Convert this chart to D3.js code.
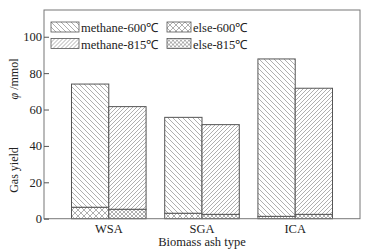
<!DOCTYPE html>
<html>
<head>
<meta charset="utf-8">
<script src="https://cdn.jsdelivr.net/npm/d3@7"></script>
<style>
  body { margin: 0; background: #fff; }
  text { font-family: "Liberation Serif", "Times New Roman", serif; fill: #222; }
</style>
</head>
<body>
<div id="viz"></div>
<script>
const width = 373;
const height = 251;
const margin = { top: 10, right: 13, bottom: 32, left: 44 };

const categories = ['WSA', 'SGA', 'ICA'];
const temps = ['600', '815'];
// yields per category, 600 then 815
const else600 = [6.3, 3.0, 1.3];
const else815 = [5.2, 2.4, 2.4];
const methane600 = [67.7, 52.7, 86.5];
const methane815 = [56.4, 49.3, 69.3];
const yTicks = [0, 20, 40, 60, 80, 100];

const lineCol = '#555';
const hatchCol = '#9a9a9a';

const svg = d3.select('#viz')
    .append('svg')
        .attr('width', width)
        .attr('height', height);

// hatch patterns
const defs = svg.append('defs');
function hatch(id, size, paths) {
    const p = defs.append('pattern')
        .attr('id', id)
        .attr('patternUnits', 'userSpaceOnUse')
        .attr('width', size)
        .attr('height', size);
    p.append('rect').attr('width', size).attr('height', size).attr('fill', '#fff');
    paths.forEach(d => {
        p.append('path').attr('d', d)
            .attr('stroke', hatchCol).attr('stroke-width', 0.8).attr('fill', 'none');
    });
}
hatch('m600', 5, ['M0,0 L5,5 M-1,4 L1,6 M4,-1 L6,1']);
hatch('m815', 4, ['M0,4 L4,0 M-1,1 L1,-1 M3,5 L5,3']);
hatch('e600', 6, ['M0,0 L6,6 M0,6 L6,0']);
hatch('e815', 4, ['M0,0 L4,4 M0,4 L4,0']);

const x0 = d3.scaleBand()
    .domain(categories)
    .range([margin.left, width - margin.right])
    .paddingInner(0.2)
    .paddingOuter(0.295);

const x1 = d3.scaleBand()
    .domain(temps)
    .range([0, x0.bandwidth()]);

const y = d3.scaleLinear()
    .domain([0, 114.7])
    .range([height - margin.bottom - 0.3, margin.top]);

// stacked bars: else at bottom, methane on top
const rows = [];
categories.forEach((c, i) => {
    rows.push({ cat: c, t: '600', lo: 0, hi: else600[i], fill: 'url(#e600)' });
    rows.push({ cat: c, t: '600', lo: else600[i], hi: else600[i] + methane600[i], fill: 'url(#m600)' });
    rows.push({ cat: c, t: '815', lo: 0, hi: else815[i], fill: 'url(#e815)' });
    rows.push({ cat: c, t: '815', lo: else815[i], hi: else815[i] + methane815[i], fill: 'url(#m815)' });
});

svg.append('g')
    .selectAll('rect')
    .data(rows)
    .join('rect')
        .attr('x', d => x0(d.cat) + x1(d.t))
        .attr('y', d => y(d.hi))
        .attr('width', x1.bandwidth())
        .attr('height', d => y(d.lo) - y(d.hi))
        .attr('fill', d => d.fill)
        .attr('stroke', lineCol)
        .attr('stroke-width', 1);

// frame
svg.append('rect')
    .attr('x', margin.left)
    .attr('y', margin.top)
    .attr('width', width - margin.right - margin.left)
    .attr('height', y(0) - margin.top)
    .attr('fill', 'none')
    .attr('stroke', '#777')
    .attr('stroke-width', 1);

// y axis, inward ticks
const yAxis = svg.append('g')
    .attr('transform', `translate(${margin.left},0)`)
    .call(d3.axisRight(y).tickValues(yTicks).tickSize(5).tickFormat(d3.format('d')));
yAxis.select('.domain').remove();
yAxis.selectAll('line').attr('stroke', '#555');
yAxis.selectAll('text')
    .attr('x', -2)
    .attr('text-anchor', 'end')
    .style('font-size', '12.5px')
    .attr('fill', '#222');

// x axis labels
const xAxis = svg.append('g')
    .attr('transform', `translate(0,${y(0)})`)
    .call(d3.axisBottom(x0).tickSize(0).tickPadding(0));
xAxis.select('.domain').remove();
xAxis.selectAll('text')
    .attr('y', 14)
    .attr('dy', null)
    .style('font-size', '12.5px')
    .attr('fill', '#222');

svg.append('text')
    .attr('x', (margin.left + width - margin.right) / 2)
    .attr('y', 246)
    .attr('text-anchor', 'middle')
    .style('font-size', '12.5px')
    .text('Biomass ash type');

// y title in two pieces with a wide gap, as in the figure
svg.append('text')
    .attr('transform', 'translate(18,170) rotate(-90)')
    .attr('text-anchor', 'middle')
    .style('font-size', '12px')
    .text('Gas yield');
const yl = svg.append('text')
    .attr('transform', 'translate(18,79) rotate(-90)')
    .attr('text-anchor', 'middle')
    .style('font-size', '12px');
yl.append('tspan').style('font-style', 'italic').text('φ');
yl.append('tspan').text(' /mmol');

// legend
const legend = [
    { label: 'methane-600℃', fill: 'url(#m600)', col: 0, row: 0 },
    { label: 'methane-815℃', fill: 'url(#m815)', col: 0, row: 1 },
    { label: 'else-600℃', fill: 'url(#e600)', col: 1, row: 0 },
    { label: 'else-815℃', fill: 'url(#e815)', col: 1, row: 1 }
];
const colX = [51, 167];
const colW = [28, 24];
const lg = svg.append('g')
    .selectAll('g')
    .data(legend)
    .join('g')
        .attr('transform', d => `translate(${colX[d.col]},${22 + d.row * 16.5})`);
lg.append('rect')
    .attr('width', d => colW[d.col])
    .attr('height', 10)
    .attr('fill', d => d.fill)
    .attr('stroke', lineCol)
    .attr('stroke-width', 0.8);
lg.append('text')
    .attr('x', d => colW[d.col] + 2)
    .attr('y', 10)
    .style('font-size', '12.5px')
    .text(d => d.label);
</script>
</body>
</html>
